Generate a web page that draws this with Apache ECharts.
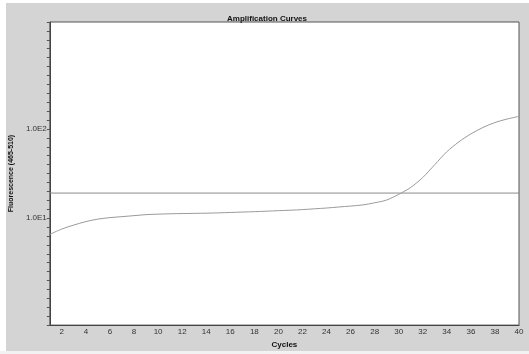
<!DOCTYPE html>
<html>
<head>
<meta charset="utf-8">
<script src="https://cdn.jsdelivr.net/npm/echarts@6/dist/echarts.min.js"></script>
<style>
html,body{margin:0;padding:0;background:#fff;}
#chart{width:529px;height:354px;}
</style>
</head>
<body>
<div id="chart"></div>
<script>
// Cycles (x) and fluorescence values (y, log scale)
var cycles = [1,2,3,4,5,6,7,8,9,10,11,12,13,14,15,16,17,18,19,20,21,22,23,24,25,26,27,28,29,30,31,32,33,34,35,36,37,38,39,40];
var fluorescence = [6.56,7.55,8.36,9.15,9.75,10.13,10.39,10.66,10.94,11.08,11.19,11.25,11.31,11.36,11.45,11.57,11.69,11.81,11.96,12.12,12.27,12.46,12.72,12.98,13.32,13.66,14.05,14.86,15.97,18.48,22.1,28.56,39.8,55.5,71.7,88.0,103.9,118.1,129.2,138.4];
var thresholdValue = 19.1;
var xTickLabels = [2,4,6,8,10,12,14,16,18,20,22,24,26,28,30,32,34,36,38,40];
var yLabelValues = [10, 100];
var yLabelTexts = ['1.0E1', '1.0E2'];

var curveData = cycles.map(function (c, i) { return [c, fluorescence[i]]; });
var thresholdData = [[cycles[0], thresholdValue], [cycles[cycles.length - 1], thresholdValue]];

var chart = echarts.init(document.getElementById('chart'), null, {renderer: 'canvas'});
var font = 'Liberation Sans, Arial, sans-serif';
chart.setOption({
  backgroundColor: '#d4d4d4',
  animation: false,
  graphic: [
    {type: 'rect', shape: {x: 0, y: 0, width: 6, height: 354}, style: {fill: '#fff'}, silent: true},
    {type: 'rect', shape: {x: 0, y: 0, width: 529, height: 3}, style: {fill: '#fff'}, silent: true},
    {type: 'rect', shape: {x: 0, y: 351, width: 529, height: 3}, style: {fill: '#f2f2f2'}, silent: true}
  ],
  title: {
    text: 'Amplification Curves',
    left: 262, textAlign: 'center', top: 10,
    textStyle: {fontSize: 8, fontWeight: 'bold', color: '#111', fontFamily: font}
  },
  grid: {
    left: 43, right: 10, top: 22, bottom: 25,
    show: true, backgroundColor: '#fff', borderColor: '#555', borderWidth: 1
  },
  xAxis: {
    type: 'value', min: 1, max: 40,
    name: 'Cycles', nameLocation: 'middle', nameGap: 14,
    nameTextStyle: {fontSize: 8, fontWeight: 'bold', color: '#111', fontFamily: font},
    axisLine: {show: true, onZero: false, lineStyle: {color: '#444', width: 1}},
    axisTick: {show: false},
    splitLine: {show: false},
    axisLabel: {customValues: xTickLabels, fontSize: 8, margin: 3, color: '#333', fontFamily: font}
  },
  yAxis: [
    {
      type: 'log', logBase: 10,
      min: Math.pow(10, -0.2), max: Math.pow(10, 3.2),
      name: 'Fluorescence (465-510)', nameLocation: 'middle', nameGap: 28,
      nameTextStyle: {fontSize: 7, fontWeight: 'bold', color: '#111', fontFamily: font},
      axisLine: {show: true, onZero: false, lineStyle: {color: '#444', width: 1}},
      axisTick: {show: false},
      splitLine: {show: false},
      axisLabel: {
        fontSize: 8, margin: 3, color: '#333', fontFamily: font,
        formatter: function (v) {
          for (var i = 0; i < yLabelValues.length; i++) {
            if (Math.abs(Math.log10(v) - Math.log10(yLabelValues[i])) < 1e-6) return yLabelTexts[i];
          }
          return '';
        }
      }
    },
    {
      type: 'value', min: -0.2, max: 3.2, interval: 0.1, position: 'left',
      axisLine: {show: false, onZero: false},
      axisTick: {show: true, length: 3, lineStyle: {color: '#555'}},
      axisLabel: {show: false},
      splitLine: {show: false}
    }
  ],
  series: [
    {
      type: 'line', yAxisIndex: 0, data: thresholdData, showSymbol: false, symbol: 'none',
      lineStyle: {color: '#8a8a8a', width: 1}, silent: true
    },
    {
      type: 'line', yAxisIndex: 0, data: curveData, showSymbol: false, symbol: 'none', smooth: 0.3,
      lineStyle: {color: '#9a9a9a', width: 1}, silent: true
    }
  ]
});
</script>
</body>
</html>
